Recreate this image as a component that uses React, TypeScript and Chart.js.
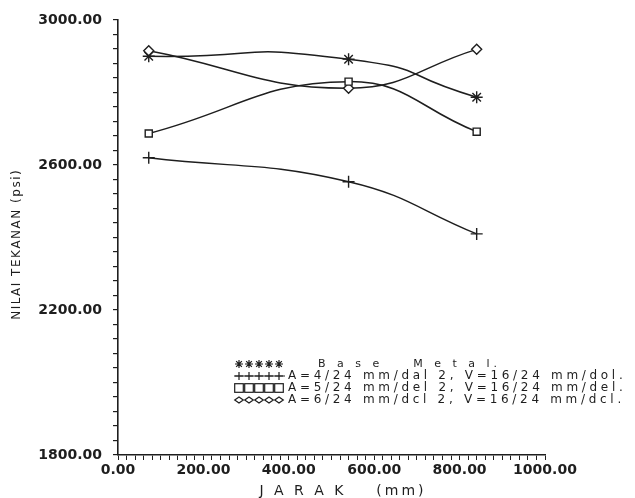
import React, { useEffect, useRef } from 'react';
import { Chart, registerables } from 'chart.js';

Chart.register(...registerables);

// ---- data ----
const distances = [72, 540, 840];
const baseMetal = [2900, 2892, 2787];
const arc4 = [2620, 2554, 2410];
const arc5 = [2687, 2830, 2692];
const arc6 = [2915, 2812, 2919];
const seriesLabels = [
  'Base Metal.',
  'A=4/24 mm/dal 2, V=16/24 mm/dol.',
  'A=5/24 mm/del 2, V=16/24 mm/del.',
  'A=6/24 mm/dcl 2, V=16/24 mm/dcl.',
];
const yLabelValues = [1800, 2200, 2600, 3000];
const xLabelValues = [0, 200, 400, 600, 800, 1000];
const xTitle = 'J A R A K    (mm)';
const yTitle = 'NILAI TEKANAN (psi)';

const INK = '#1e1e1e';
const FONT = '"DejaVu Sans", sans-serif';

function spaced(ctx: CanvasRenderingContext2D, text: string, x: number, y: number, gap: number) {
  let cx = x;
  for (const ch of text) {
    ctx.fillText(ch, cx, y);
    cx += ctx.measureText(ch).width + gap;
  }
  return cx - gap - x;
}
function spacedWidth(ctx: CanvasRenderingContext2D, text: string, gap: number) {
  let w = 0;
  for (const ch of text) w += ctx.measureText(ch).width + gap;
  return w - gap;
}

function star(ctx: CanvasRenderingContext2D, x: number, y: number, r: number) {
  ctx.beginPath();
  for (let i = 0; i < 4; i++) {
    const a = (i * Math.PI) / 4;
    ctx.moveTo(x - r * Math.cos(a), y - r * Math.sin(a));
    ctx.lineTo(x + r * Math.cos(a), y + r * Math.sin(a));
  }
  ctx.stroke();
}
function cross(ctx: CanvasRenderingContext2D, x: number, y: number, r: number) {
  ctx.beginPath();
  ctx.moveTo(x - r, y);
  ctx.lineTo(x + r, y);
  ctx.moveTo(x, y - r);
  ctx.lineTo(x, y + r);
  ctx.stroke();
}
function square(ctx: CanvasRenderingContext2D, x: number, y: number, r: number) {
  ctx.strokeRect(x - r, y - r, 2 * r, 2 * r);
}
function diamond(ctx: CanvasRenderingContext2D, x: number, y: number, r: number) {
  ctx.beginPath();
  ctx.moveTo(x - r, y);
  ctx.lineTo(x, y - r * 0.7);
  ctx.lineTo(x + r, y);
  ctx.lineTo(x, y + r * 0.7);
  ctx.closePath();
  ctx.stroke();
}

const decorations = {
  id: 'decorations',
  afterDraw(chart: any) {
    const ctx: CanvasRenderingContext2D = chart.ctx;
    const area = chart.chartArea;
    ctx.save();
    ctx.fillStyle = INK;
    ctx.strokeStyle = INK;
    ctx.textBaseline = 'middle';

    // x title
    ctx.font = `14px ${FONT}`;
    const xw = spacedWidth(ctx, xTitle, 3);
    spaced(ctx, xTitle, (area.left + area.right) / 2 + 10 - xw / 2, 491, 3);

    // y title
    ctx.save();
    ctx.font = `12px ${FONT}`;
    ctx.translate(17, 245);
    ctx.rotate(-Math.PI / 2);
    const yw = spacedWidth(ctx, yTitle, 1.5);
    spaced(ctx, yTitle, -yw / 2, 0, 1.5);
    ctx.restore();

    // legend
    const rows = [364, 376, 388, 400];
    const symbols = [star, cross, square, diamond];
    ctx.lineWidth = 1.2;
    rows.forEach((ry, i) => {
      if (i === 1) {
        ctx.beginPath();
        ctx.moveTo(234, ry);
        ctx.lineTo(285, ry);
        ctx.stroke();
      }
      for (let k = 0; k < 5; k++) {
        symbols[i](ctx, 239 + k * 10, ry, i === 1 ? 4 : i === 0 ? 4 : 4.3);
      }
      if (i === 0) {
        ctx.font = `11px ${FONT}`;
        spaced(ctx, 'B a s e    M e t a l.', 318, ry, 4);
      } else {
        ctx.font = `12px ${FONT}`;
        spaced(ctx, seriesLabels[i], 288, ry, 3.7);
      }
    });
    ctx.restore();
  },
};

function isLabel(list: number[], v: number) {
  return list.some((t) => Math.abs(t - v) < 1e-6);
}

export default function App() {
  const ref = useRef<HTMLCanvasElement>(null);
  useEffect(() => {
    const mk = (vals: number[]) => distances.map((x, i) => ({ x, y: vals[i] }));
    const common = {
      borderColor: INK,
      borderWidth: 1.5,
      pointBorderColor: INK,
      pointBackgroundColor: '#ffffff',
      pointBorderWidth: 1.4,
      pointRadius: 5,
      tension: 0.45,
      fill: false,
    };
    const chart = new Chart(ref.current!, {
      type: 'line',
      data: {
        datasets: [
          { ...common, label: seriesLabels[1], data: mk(arc4), pointStyle: 'cross', pointRadius: 6 },
          { ...common, label: seriesLabels[2], data: mk(arc5), pointStyle: 'rect', pointRadius: 5 },
          { ...common, label: seriesLabels[3], data: mk(arc6), pointStyle: 'rectRot', pointRadius: 5 },
          { ...common, label: seriesLabels[0], data: mk(baseMetal), pointStyle: 'star', pointRadius: 6, tension: 0.65 },
        ],
      },
      options: {
        animation: false,
        responsive: false,
        devicePixelRatio: 1,
        layout: { padding: { top: 20, right: 90, left: 0, bottom: 0 } },
        plugins: { legend: { display: false }, tooltip: { enabled: false } },
        scales: {
          x: {
            type: 'linear',
            min: 0,
            max: 1000,
            afterFit: (s: any) => {
              s.height = 43;
            },
            border: { display: true, color: INK, width: 1.6 },
            grid: { drawOnChartArea: false, drawTicks: true, tickLength: 5, color: INK, lineWidth: 1 },
            ticks: {
              stepSize: 20,
              autoSkip: false,
              maxRotation: 0,
              padding: 2,
              color: INK,
              font: { family: FONT, size: 14, weight: 'bold' },
              callback: (v: any) => (isLabel(xLabelValues, Number(v)) ? Number(v).toFixed(2) : ''),
            },
          },
          y: {
            type: 'linear',
            min: 1800,
            max: 3000,
            afterFit: (s: any) => {
              s.width = 118;
            },
            border: { display: true, color: INK, width: 1.6 },
            grid: { drawOnChartArea: false, drawTicks: true, tickLength: 5, color: INK, lineWidth: 1.2 },
            ticks: {
              stepSize: 40,
              autoSkip: false,
              padding: 11,
              color: INK,
              font: { family: FONT, size: 14, weight: 'bold' },
              callback: (v: any) => (isLabel(yLabelValues, Number(v)) ? Number(v).toFixed(2) : ''),
            },
          },
        },
      },
      plugins: [decorations],
    });
    return () => chart.destroy();
  }, []);
  return (
    <div style={{ position: 'fixed', left: 0, top: 0, width: 635, height: 498, background: '#ffffff' }}>
      <canvas ref={ref} width={635} height={498} />
    </div>
  );
}
